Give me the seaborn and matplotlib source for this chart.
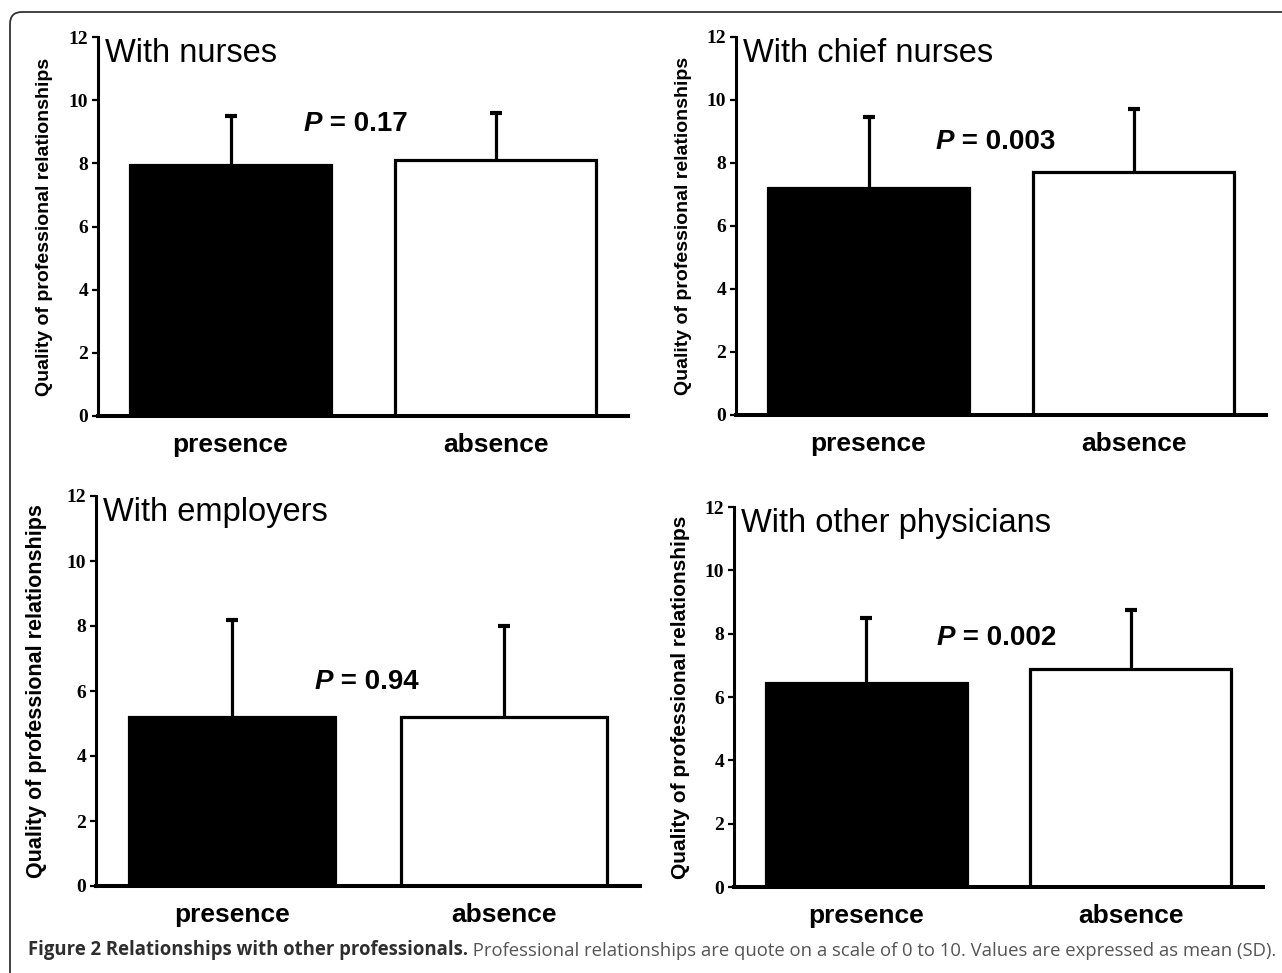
import numpy as np
import pandas as pd
import seaborn as sns
import matplotlib.pyplot as plt
from matplotlib.patches import FancyBboxPatch
from matplotlib.transforms import IdentityTransform

# values (mean and SD, scale 0-10)
groups = ['presence', 'absence']
titles = ['With nurses', 'With chief nurses', 'With employers', 'With other physicians']
means_nurses = [7.95, 8.1]
sd_nurses = [1.55, 1.5]
means_chief = [7.2, 7.7]
sd_chief = [2.25, 2.0]
means_employers = [5.2, 5.2]
sd_employers = [3.0, 2.8]
means_physicians = [6.45, 6.9]
sd_physicians = [2.05, 1.85]
p_values = ['0.17', '0.003', '0.94', '0.002']
yticks = [0, 2, 4, 6, 8, 10, 12]

all_means = [means_nurses, means_chief, means_employers, means_physicians]
all_sd = [sd_nurses, sd_chief, sd_employers, sd_physicians]

sns.set_style('white')
plt.rcParams['font.family'] = ['Liberation Sans', 'DejaVu Sans']
plt.rcParams['text.color'] = 'black'
plt.rcParams['xtick.color'] = 'black'
plt.rcParams['ytick.color'] = 'black'

W, H = 1282, 973
fig = plt.figure(figsize=(W / 100, H / 100), dpi=100)

# axes boxes in pixels: left, top, right, bottom
boxes = [(98, 37, 628, 416), (736, 37, 1266, 415), (96, 496, 640, 886), (734, 507, 1263, 887)]
ylab_x = [45, 683, 37, 680]
ylab_size = [14, 14, 15.5, 15]
p_pos = [(0.277, 9.24), (0.254, 8.66), (0.304, 6.28), (0.265, 7.87)]

for i in range(4):
    l, t, r, b = boxes[i]
    ax = fig.add_axes([l / W, 1 - b / H, (r - l) / W, (b - t) / H])
    df = pd.DataFrame({'group': groups, 'mean': all_means[i], 'sd': all_sd[i]})
    sns.barplot(data=df, x='group', y='mean', hue='group', palette=['black', 'white'],
                edgecolor='black', linewidth=2.3, width=0.76, legend=False, ax=ax)
    # one-sided SD bars, upper cap only
    eb = ax.errorbar(np.arange(len(groups)), df['mean'], yerr=[np.zeros(len(groups)), df['sd']],
                     fmt='none', ecolor='black', elinewidth=2.3, capsize=4.5, capthick=3, zorder=1)
    for cl in eb[1]:
        if np.allclose(cl.get_ydata(), df['mean']):
            cl.set_visible(False)
    ax.set_xlim(-0.5, 1.5)
    ax.set_ylim(0, 12)
    ax.set_yticks(yticks)
    ax.set_yticklabels([str(v) for v in yticks], family='Liberation Serif', fontweight='bold', fontsize=14)
    ax.tick_params(axis='y', direction='out', length=4, width=1.6, left=True, pad=3)
    ax.tick_params(axis='x', length=0, pad=12)
    for lab in ax.get_xticklabels():
        lab.set_fontsize(19)
        lab.set_fontweight('bold')
    ax.set_xlabel('')
    ax.set_ylabel('')
    for s in ['top', 'right']:
        ax.spines[s].set_visible(False)
    ax.spines['left'].set_linewidth(2.2)
    ax.spines['bottom'].set_linewidth(2.9)
    ax.spines['left'].set_color('black')
    ax.spines['bottom'].set_color('black')
    ax.text(0.013, 0.997, titles[i], transform=ax.transAxes, va='top', ha='left', fontsize=23.5)
    pt = ax.text(p_pos[i][0], p_pos[i][1], 'P', fontsize=20, fontweight='bold', style='italic', va='center')
    ax.annotate(' = ' + p_values[i], xy=(1, 0), xycoords=pt, va='bottom', ha='left',
                fontsize=20, fontweight='bold')
    fig.text(ylab_x[i] / W, 1 - (t + b) / 2 / H, 'Quality of professional relationships',
             rotation=90, ha='center', va='center', fontsize=ylab_size[i], fontweight='bold')

# frame round the figure, cut off on the right and bottom like the source
frame = FancyBboxPatch((10, -30), 1320, H - 12 + 30, boxstyle='round,pad=0,rounding_size=12',
                       transform=IdentityTransform(), fill=False, edgecolor='#333333', linewidth=1.3)
fig.patches.append(frame)

cap = fig.text(28 / W, 1 - 950 / H, 'Figure 2 Relationships with other professionals.',
               family=['Open Sans', 'DejaVu Sans'], fontweight='bold', fontsize=13.35, color='#2e2e2e',
               va='center', ha='left')
fig.add_artist(plt.Annotation(' Professional relationships are quote on a scale of 0 to 10. Values are expressed as mean (SD).',
                              xy=(1, 0), xycoords=cap, va='bottom', ha='left',
                              family=['Open Sans', 'DejaVu Sans'], fontsize=13.35, color='#555555'))

fig.savefig('out.png', dpi=100)
